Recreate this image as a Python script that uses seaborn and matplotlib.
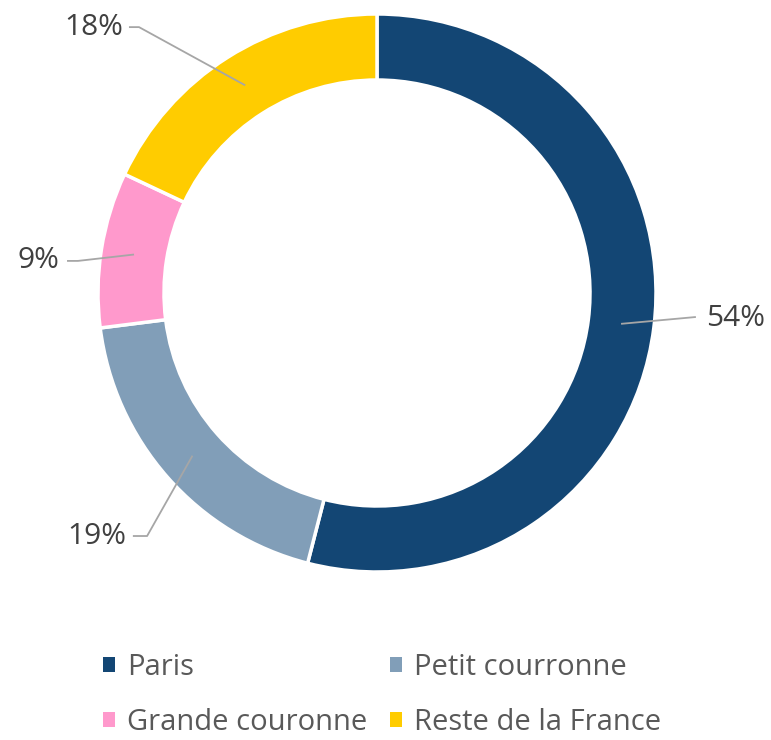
import numpy as np
import matplotlib
matplotlib.use("Agg")
import matplotlib.pyplot as plt
import seaborn as sns
from matplotlib.patches import Patch

CATEGORIES = ["Paris", "Petit courronne", "Grande couronne", "Reste de la France"]
SHARES = [54, 19, 9, 18]
COLORS = ["#134674", "#819EB8", "#FF99CC", "#FFCC00"]

# elbow, line end and text position for each label (data units, pie radius = 1)
LABEL_LAYOUT = [
    {"elbow": (1.143, -0.086), "end": (1.143, -0.086), "text": (1.18, -0.093), "ha": "left"},
    {"elbow": (-0.824, -0.871), "end": (-0.875, -0.871), "text": (-0.90, -0.871), "ha": "right"},
    {"elbow": (-1.072, 0.115), "end": (-1.111, 0.115), "text": (-1.14, 0.115), "ha": "right"},
    {"elbow": (-0.853, 0.953), "end": (-0.889, 0.953), "text": (-0.91, 0.953), "ha": "right"},
]

sns.set_theme(style="white")
plt.rcParams["font.family"] = ["Open Sans", "DejaVu Sans"]

W, H = 771, 740
CX, CY, R = 377, 293, 279
fig = plt.figure(figsize=(W / 100, H / 100), dpi=100)
ax = fig.add_axes([0, 0, 1, 1])
ax.axis("off")

ring = 66 / R
wedges, _ = ax.pie(
    SHARES,
    colors=COLORS,
    startangle=90,
    counterclock=False,
    radius=1.0,
    wedgeprops={"width": ring, "edgecolor": "white", "linewidth": 2.5},
)
ax.set_aspect("auto")
ax.set_xlim((0 - CX) / R, (W - CX) / R)
ax.set_ylim((CY - H) / R, CY / R)

mid_r = 1 - ring / 2
total = sum(SHARES)
for w, share, lay in zip(wedges, SHARES, LABEL_LAYOUT):
    ang = np.deg2rad((w.theta1 + w.theta2) / 2)
    px, py = mid_r * np.cos(ang), mid_r * np.sin(ang)
    xs = [px, lay["elbow"][0], lay["end"][0]]
    ys = [py, lay["elbow"][1], lay["end"][1]]
    ax.plot(xs, ys, color="#A6A6A6", lw=1.3, solid_capstyle="butt")
    ax.text(lay["text"][0], lay["text"][1], f"{share / total * 100:.0f}%",
            ha=lay["ha"], va="center", fontsize=21.5, color="#404040")

handles = [Patch(facecolor=c, edgecolor="none") for c in COLORS]
order = [0, 2, 1, 3]
fig.legend(
    [handles[i] for i in order],
    [CATEGORIES[i] for i in order],
    ncol=2,
    loc="center",
    bbox_to_anchor=(382 / W, 1 - 695 / H),
    frameon=False,
    fontsize=21,
    labelcolor="#595959",
    handlelength=0.4,
    handleheight=0.4,
    handletextpad=0.4,
    columnspacing=0.8,
    labelspacing=0.9,
)

fig.savefig("out.png", dpi=100)
